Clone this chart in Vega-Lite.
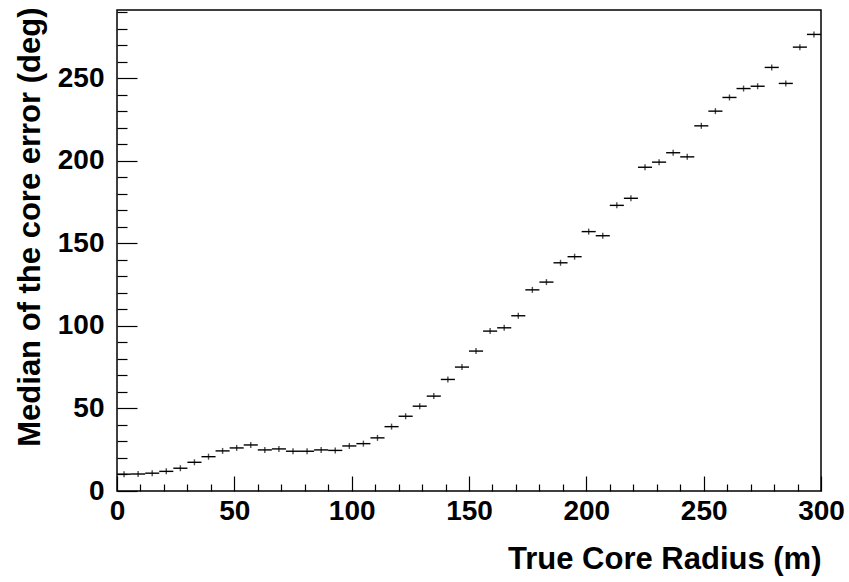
{
  "$schema": "https://vega.github.io/schema/vega-lite/v6.json",
  "autosize": {"type": "none"},
  "padding": {"left": 117, "top": 10, "right": 28, "bottom": 91},
  "width": 704,
  "height": 481,
  "background": "white",
  "config": {
    "view": {"stroke": "black", "strokeWidth": 1.5},
    "axis": {
      "labelFont": "Liberation Sans", "labelFontWeight": "bold", "labelFontSize": 28, "labelColor": "black",
      "titleFont": "Liberation Sans", "titleFontWeight": "bold", "titleFontSize": 31, "titleColor": "black",
      "domain": false, "grid": false, "tickColor": "black", "tickWidth": 1.2, "labelFlush": false
    }
  },
  "data": {"values": [
    {"lo": 0, "x": 3, "hi": 6, "y": 10.2},
    {"lo": 6, "x": 9, "hi": 12, "y": 10.3},
    {"lo": 12, "x": 15, "hi": 18, "y": 10.8},
    {"lo": 18, "x": 21, "hi": 24, "y": 11.9},
    {"lo": 24, "x": 27, "hi": 30, "y": 13.8},
    {"lo": 30, "x": 33, "hi": 36, "y": 17.4},
    {"lo": 36, "x": 39, "hi": 42, "y": 20.8},
    {"lo": 42, "x": 45, "hi": 48, "y": 24.3},
    {"lo": 48, "x": 51, "hi": 54, "y": 26.1},
    {"lo": 54, "x": 57, "hi": 60, "y": 27.9},
    {"lo": 60, "x": 63, "hi": 66, "y": 24.9},
    {"lo": 66, "x": 69, "hi": 72, "y": 25.5},
    {"lo": 72, "x": 75, "hi": 78, "y": 24.1},
    {"lo": 78, "x": 81, "hi": 84, "y": 24.1},
    {"lo": 84, "x": 87, "hi": 90, "y": 24.9},
    {"lo": 90, "x": 93, "hi": 96, "y": 24.6},
    {"lo": 96, "x": 99, "hi": 102, "y": 27.3},
    {"lo": 102, "x": 105, "hi": 108, "y": 28.7},
    {"lo": 108, "x": 111, "hi": 114, "y": 32.2},
    {"lo": 114, "x": 117, "hi": 120, "y": 39.0},
    {"lo": 120, "x": 123, "hi": 126, "y": 45.3},
    {"lo": 126, "x": 129, "hi": 132, "y": 51.4},
    {"lo": 132, "x": 135, "hi": 138, "y": 57.5},
    {"lo": 138, "x": 141, "hi": 144, "y": 67.6},
    {"lo": 144, "x": 147, "hi": 150, "y": 75.1},
    {"lo": 150, "x": 153, "hi": 156, "y": 84.8},
    {"lo": 156, "x": 159, "hi": 162, "y": 96.9},
    {"lo": 162, "x": 165, "hi": 168, "y": 98.9},
    {"lo": 168, "x": 171, "hi": 174, "y": 106.2},
    {"lo": 174, "x": 177, "hi": 180, "y": 121.9},
    {"lo": 180, "x": 183, "hi": 186, "y": 126.6},
    {"lo": 186, "x": 189, "hi": 192, "y": 138.3},
    {"lo": 192, "x": 195, "hi": 198, "y": 142.0},
    {"lo": 198, "x": 201, "hi": 204, "y": 157.2},
    {"lo": 204, "x": 207, "hi": 210, "y": 154.7},
    {"lo": 210, "x": 213, "hi": 216, "y": 173.1},
    {"lo": 216, "x": 219, "hi": 222, "y": 177.4},
    {"lo": 222, "x": 225, "hi": 228, "y": 196.2},
    {"lo": 228, "x": 231, "hi": 234, "y": 199.3},
    {"lo": 234, "x": 237, "hi": 240, "y": 205.0},
    {"lo": 240, "x": 243, "hi": 246, "y": 202.5},
    {"lo": 246, "x": 249, "hi": 252, "y": 221.3},
    {"lo": 252, "x": 255, "hi": 258, "y": 230.2},
    {"lo": 258, "x": 261, "hi": 264, "y": 238.5},
    {"lo": 264, "x": 267, "hi": 270, "y": 243.9},
    {"lo": 270, "x": 273, "hi": 276, "y": 245.3},
    {"lo": 276, "x": 279, "hi": 282, "y": 256.7},
    {"lo": 282, "x": 285, "hi": 288, "y": 247.0},
    {"lo": 288, "x": 291, "hi": 294, "y": 269.0},
    {"lo": 294, "x": 297, "hi": 300, "y": 276.7}
  ]},
  "layer": [
    {
      "mark": {"type": "rule", "color": "black", "strokeWidth": 1.4},
      "encoding": {
        "x": {"field": "lo", "type": "quantitative",
          "scale": {"domain": [0, 300], "nice": false},
          "axis": {"orient": "bottom", "values": [0, 50, 100, 150, 200, 250, 300], "tickSize": -15, "labelPadding": 21, "labelDx": -3,
            "title": "True Core Radius (m)", "titleAlign": "right", "titleAnchor": "end", "titleX": 704, "titleY": 77, "titleBaseline": "alphabetic"}},
        "x2": {"field": "hi"},
        "y": {"field": "y", "type": "quantitative",
          "scale": {"domain": [0, 291.5], "nice": false, "zero": true},
          "axis": {"orient": "left", "values": [0, 50, 100, 150, 200, 250], "tickSize": -20, "labelPadding": 33,
            "title": "Median of the core error (deg)", "titleAngle": -90, "titleAlign": "right", "titleAnchor": "end", "titleX": -78, "titleY": -3, "titleBaseline": "alphabetic"}}
      }
    },
    {
      "mark": {"type": "tick", "orient": "vertical", "color": "black", "size": 6, "thickness": 1.4},
      "encoding": {
        "x": {"field": "x", "type": "quantitative",
          "axis": {"orient": "bottom", "values": [10, 20, 30, 40, 60, 70, 80, 90, 110, 120, 130, 140, 160, 170, 180, 190, 210, 220, 230, 240, 260, 270, 280, 290], "tickSize": -7, "labels": false, "title": null}},
        "y": {"field": "y", "type": "quantitative",
          "axis": {"orient": "left", "values": [10, 20, 30, 40, 60, 70, 80, 90, 110, 120, 130, 140, 160, 170, 180, 190, 210, 220, 230, 240, 260, 270, 280, 290], "tickSize": -10, "labels": false, "title": null}}
      }
    }
  ],
  "resolve": {"axis": {"x": "independent", "y": "independent"}}
}
